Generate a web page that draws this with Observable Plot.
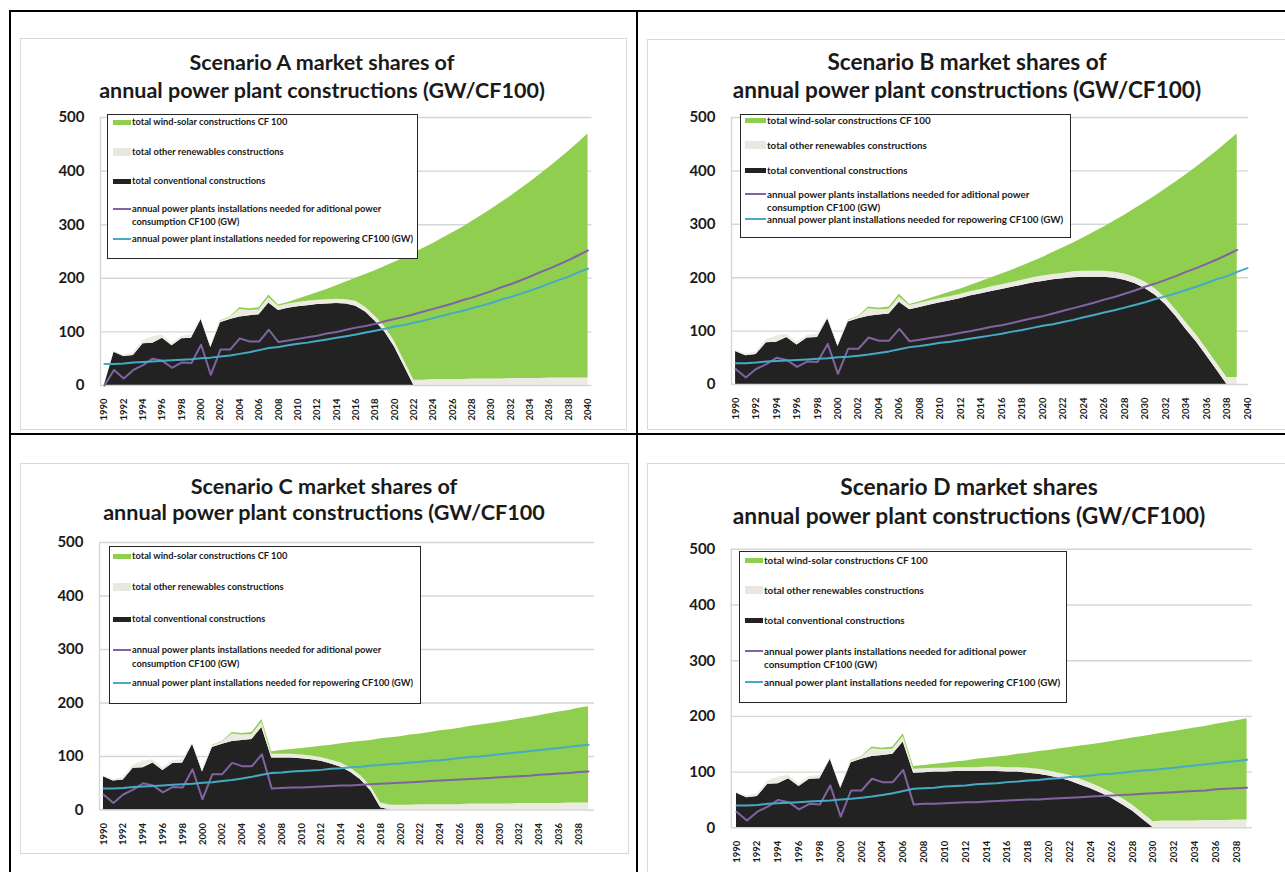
<!DOCTYPE html>
<html><head><meta charset="utf-8">
<script src="https://cdn.jsdelivr.net/npm/d3@7"></script>
<script src="https://cdn.jsdelivr.net/npm/@observablehq/plot@0.6"></script>
<style>
html,body{margin:0;padding:0;background:#fff;}
body{width:1285px;height:872px;position:relative;overflow:hidden;font-family:Lato,"Open Sans",sans-serif;}
.frame{position:absolute;border:1.5px solid #d9d9d9;box-sizing:border-box;}
.title{position:absolute;text-align:center;font-weight:700;color:#1a1a1a;white-space:nowrap;line-height:28px;}
.legend{position:absolute;border:1.5px solid #262626;background:#fff;box-sizing:border-box;}
.lt{position:absolute;font-weight:700;color:#1a1a1a;white-space:nowrap;line-height:10px;}
.sw{position:absolute;}
.rule{position:absolute;background:#000;}
.plotbox{position:absolute;}
.plotbox svg{display:block;}
</style></head><body>
<script>
// ---------- DATA ----------
const years = d3.range(1990, 2041);
const yTicks = [0, 100, 200, 300, 400, 500];
const xTicksAB = d3.range(1990, 2041, 2);
const xTicksCD = d3.range(1990, 2039, 2);

const seriesNames = ["total conventional constructions", "total other renewables constructions", "total wind-solar constructions CF 100"];
const seriesColors = ["#222222", "#ecebe2", "#8fce4e"];
const purpleColor = "#8064a2";
const cyanColor = "#46aac5";
const lineNames = ["annual power plants installations needed for aditional power consumption CF100 (GW)", "annual power plant installations needed for repowering CF100 (GW)"];

// history 1990-2006 (shared by the scenarios)
const histConventional = [62, 54, 56, 78, 79, 88, 74, 87, 88, 123, 71, 117, 123, 128, 130, 132, 154];
const histOther        = [2, 3, 5, 6, 12, 6, 5, 5, 6, 3, 3, 3, 4, 14, 10, 9, 10];
const histWindSolar    = [0, 0, 0, 0, 0, 0, 0, 0, 0, 0, 0, 1, 1, 3, 3, 4, 5];
const histAdditional   = [29, 13, 29, 38, 50, 46, 33, 43, 42, 76, 20, 67, 67, 88, 82, 82, 104];
const histRepowering   = [40, 40, 41, 43, 44, 45, 46, 47, 48, 49, 51, 52, 54, 56, 59, 62, 66];

// Scenario A (stacked series start 1990 with 0, history drawn one year later, projection 2008-2040)
const aConventional = [0, ...histConventional, 140,144,147,149,151,152,153,152,148,137,120,100,72,36,0, 0,0,0,0,0,0,0,0,0,0,0,0,0,0,0,0,0,0];
const aOther        = [0, ...histOther, 8,8,8,8,8,8,8,8,9,9,9,9,10,10,10,10,11,11,11,11,12,12,12,12,13,13,13,13,14,14,14,14,14];
const aWindSolar    = [0, ...histWindSolar, 2,3,6,10,14,19,25,33,43,61,85,113,148,192,237,246,254,264,274,284,294,305,317,329,340,353,366,380,393,408,423,439,455];
const aAdditional   = [0, ...histAdditional, 81,84,87,90,93,97,100,104,108,111,115,120,124,128,133,138,143,148,153,159,164,170,176,183,189,196,203,211,218,226,234,243,252];
const aRepowering   = [...histRepowering, 70,72,75,78,80,83,86,89,92,95,99,102,106,110,113,117,121,126,130,135,139,144,149,154,160,165,171,177,183,190,197,203,211,218];

// Scenario B (projection 2007-2039, repowering to 2040)
const bConventional = [...histConventional, 140,144,149,153,157,161,166,170,174,178,182,186,190,193,196,198,200,201,201,201,199,195,189,180,167,150,128,103,80,54,27,0,0];
const bOther        = [...histOther, 8,8,8,8,8,8,8,8,9,9,9,9,10,10,10,10,11,11,11,11,11,12,12,12,12,12,12,13,13,13,13,13,13];
const bWindSolar    = [...histWindSolar, 2,3,4,6,8,10,12,15,17,20,23,27,30,35,41,48,54,63,73,83,96,110,128,149,174,204,239,277,314,355,397,440,456];
const bAdditional   = [...histAdditional, 81,84,87,90,93,97,100,104,108,111,115,120,124,128,133,138,143,148,153,159,164,170,176,183,189,196,203,211,218,226,234,243,252];
const bRepowering   = [...histRepowering, 70,72,75,78,80,83,86,89,92,95,99,102,106,110,113,117,121,126,130,135,139,144,149,154,160,165,171,177,183,190,197,203,211,218];

// Scenario C (projection 2007-2039)
const cConventional = [...histConventional, 97,97,97,96,94,91,86,80,70,56,36,4, 0,0,0,0,0,0,0,0,0,0,0,0,0,0,0,0,0,0,0,0,0];
const cOther        = [...histOther, 7,7,7,7,7,7,7,8,8,8,8,9,9,9,9,10,10,10,10,10,11,11,11,11,11,12,12,12,12,12,13,13,13];
const cWindSolar    = [...histWindSolar, 5,7,9,12,16,21,28,36,48,64,86,120,126,128,131,132,135,138,140,143,145,148,150,153,156,158,161,164,168,171,173,177,180];
const cAdditional   = [...histAdditional, 40,41,42,42,43,44,45,46,46,47,48,49,50,51,52,53,54,55,56,57,58,59,60,61,62,63,64,66,67,68,69,71,72];
const cRepowering   = [...histRepowering, 69,70,72,73,74,75,77,78,80,81,83,84,86,87,89,90,92,93,95,97,99,100,102,104,106,108,110,112,114,116,118,120,122];

// Scenario D (projection 2007-2039)
const dConventional = [...histConventional, 98,99,100,100,101,101,101,101,101,100,100,98,96,93,89,84,77,70,62,53,42,30,15,0, 0,0,0,0,0,0,0,0,0];
const dOther        = [...histOther, 7,7,7,7,7,7,7,8,8,8,8,9,9,9,9,10,10,10,10,10,11,11,11,11,12,12,12,12,13,13,13,14,14];
const dWindSolar    = [...histWindSolar, 5,6,7,9,10,12,15,16,18,21,24,27,32,37,44,50,60,69,80,92,105,120,138,156,158,161,164,167,169,173,176,178,182];
const dAdditional   = [...histAdditional, 42,43,43,44,45,46,46,47,48,49,50,51,51,52,53,54,55,56,57,58,59,60,61,62,63,64,65,66,67,69,70,71,72];
const dRepowering   = [...histRepowering, 70,71,72,74,75,76,78,79,80,82,83,85,86,88,89,91,92,94,96,97,99,101,103,104,106,108,110,112,114,116,118,120,122];

const titlesLine1 = ["Scenario A market shares of", "Scenario B market shares of", "Scenario C market shares of", "Scenario D market shares"];
const titleLine2 = ["annual power plant constructions (GW/CF100)", "annual power plant constructions (GW/CF100)", "annual power plant constructions (GW/CF100", "annual power plant constructions (GW/CF100)"];

// ---------- LAYOUT ----------
const panels = [
  {conv:aConventional, other:aOther, wind:aWindSolar, add:aAdditional, rep:aRepowering, ticks:xTicksAB,
   frame:[20,38,607,392], cx:322, t1:62, t2:90, tfs:21.5,
   svg:{left:20, top:100, width:607, height:330, ml:80, mr:35.6, mt:17, mb:45}, xd:[1989.6,2040.4],
   lg:{x:107, y:114, w:311, h:145, sx:113, sw:18, tx:132, fs:9.3, rows:[122,152,181,209,239], row2:222}},
  {conv:bConventional, other:bOther, wind:bWindSolar, add:bAdditional, rep:bRepowering, ticks:xTicksAB,
   frame:[647,39,660,391], cx:967, t1:62, t2:90, tfs:22.6,
   svg:{left:647, top:100, width:638, height:330, ml:84, mr:37, mt:17, mb:46}, xd:[1989.6,2040.1],
   lg:{x:740, y:114, w:331, h:124, sx:745, sw:21, tx:767, fs:9.8, rows:[120,145,170,194,219], row2:207}},
  {conv:cConventional, other:cOther, wind:cWindSolar, add:cAdditional, rep:cRepowering, ticks:xTicksCD,
   frame:[20,463,609,391], cx:324, t1:486, t2:512, tfs:21.6,
   svg:{left:20, top:524, width:609, height:330, ml:79, mr:35, mt:18, mb:44.5}, xd:[1989.6,2039.6],
   lg:{x:109, y:546, w:312, h:158, sx:113, sw:18, tx:132, fs:9.3, rows:[556,587,619,650,683], row2:664}},
  {conv:dConventional, other:dOther, wind:dWindSolar, add:dAdditional, rep:dRepowering, ticks:xTicksCD,
   frame:[647,463,660,420], cx:969, t1:486, t2:515, tfs:22.8,
   svg:{left:647, top:530, width:638, height:342, ml:83.8, mr:33.2, mt:18.8, mb:44.7}, xd:[1989.5,2039.5],
   lg:{x:739, y:551, w:328, h:152, sx:745, sw:18, tx:764, fs:9.8, rows:[560,590,620,651,682], row2:664}}
];

function el(tag, cls, style, text) {
  const e = document.createElement(tag);
  if (cls) e.className = cls;
  Object.assign(e.style, style || {});
  if (text != null) e.textContent = text;
  document.body.appendChild(e);
  return e;
}

panels.forEach((p, pi) => {
  el("div", "frame", {left:p.frame[0]+"px", top:p.frame[1]+"px", width:p.frame[2]+"px", height:p.frame[3]+"px"});
  el("div", "title", {left:(p.cx-320)+"px", width:"640px", top:(p.t1-14)+"px", fontSize:p.tfs+"px"}, titlesLine1[pi]);
  el("div", "title", {left:(p.cx-320)+"px", width:"640px", top:(p.t2-14)+"px", fontSize:p.tfs+"px"}, titleLine2[pi]);

  const stackRows = [];
  p.conv.forEach((v, i) => {
    stackRows.push({year: years[i], series: seriesNames[0], value: v});
    stackRows.push({year: years[i], series: seriesNames[1], value: p.other[i]});
    stackRows.push({year: years[i], series: seriesNames[2], value: p.wind[i]});
  });
  const addRows = p.add.map((v, i) => ({year: years[i], value: v}));
  const repRows = p.rep.map((v, i) => ({year: years[i], value: v}));

  const s = p.svg;
  const chart = Plot.plot({
    width: s.width, height: s.height,
    marginLeft: s.ml, marginRight: s.mr, marginTop: s.mt, marginBottom: s.mb,
    x: {domain: p.xd, axis: null},
    y: {domain: [0, 500], axis: null},
    color: {domain: seriesNames, range: seriesColors},
    style: {background: "transparent", overflow: "visible", fontFamily: "Lato, sans-serif", color: "#1a1a1a"},
    marks: [
      Plot.gridY({ticks: yTicks.slice(1), stroke: "#d6d6d6", strokeOpacity: 1, strokeWidth: 1.4}),
      Plot.ruleX([p.xd[0]], {stroke: "#d6d6d6", strokeWidth: 1.4}),
      Plot.areaY(stackRows, {x: "year", y: "value", fill: "series", z: "series"}),
      Plot.ruleY([0], {stroke: "#d6d6d6", strokeWidth: 1.4}),
      Plot.lineY(addRows, {x: "year", y: "value", stroke: purpleColor, strokeWidth: 2}),
      Plot.lineY(repRows, {x: "year", y: "value", stroke: cyanColor, strokeWidth: 2}),
      Plot.axisY({ticks: yTicks, label: null, tickSize: 0, tickPadding: 16, fontSize: 15, fontWeight: "bold", tickFormat: d => String(d)}),
      Plot.axisX({ticks: p.ticks, label: null, tickSize: 0, tickPadding: 13, tickRotate: -90, fontSize: 9.5, fontWeight: "bold", tickFormat: d => String(d)})
    ]
  });
  const box = el("div", "plotbox", {left: s.left+"px", top: s.top+"px", width: s.width+"px", height: s.height+"px"});
  box.appendChild(chart);

  const L = p.lg;
  el("div", "legend", {left:L.x+"px", top:L.y+"px", width:L.w+"px", height:L.h+"px"});
  const swatches = [
    {color: seriesColors[2], h:5, label: seriesNames[2]},
    {color: "#e9e8df", h:8, label: seriesNames[1]},
    {color: seriesColors[0], h:5, label: seriesNames[0]},
    {color: purpleColor, h:2, label: "annual power plants installations needed for aditional power", label2: "consumption CF100 (GW)"},
    {color: cyanColor, h:2, label: lineNames[1]}
  ];
  swatches.forEach((w, k) => {
    const cy = L.rows[k];
    el("div", "sw", {left:L.sx+"px", top:(cy - w.h/2)+"px", width:L.sw+"px", height:w.h+"px", background:w.color});
    el("div", "lt", {left:L.tx+"px", top:(cy-5)+"px", fontSize:L.fs+"px"}, w.label);
    if (w.label2) el("div", "lt", {left:L.tx+"px", top:(L.row2-5)+"px", fontSize:L.fs+"px"}, w.label2);
  });
});

el("div", "rule", {left:"9px", top:"10px", width:"1276px", height:"2px"});
el("div", "rule", {left:"9px", top:"10px", width:"2px", height:"862px"});
el("div", "rule", {left:"636px", top:"10px", width:"2px", height:"862px"});
el("div", "rule", {left:"9px", top:"433px", width:"1276px", height:"2px"});
</script>
</body></html>
